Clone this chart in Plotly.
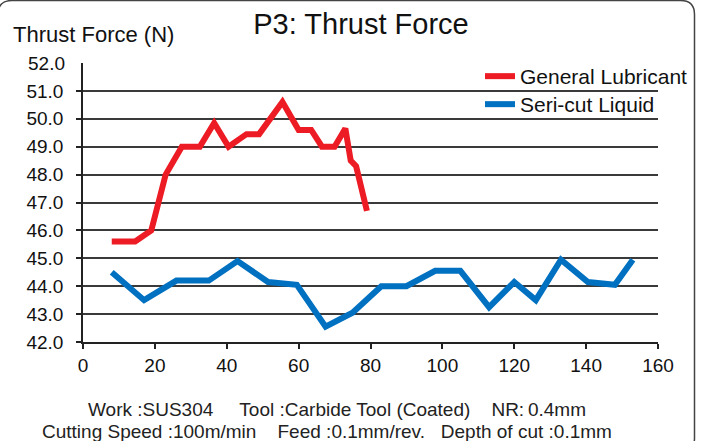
import plotly.graph_objects as go

# ---- data ----
red_name = "General Lubricant"
red_x = [8, 14.5, 19, 23, 27.5, 32.5, 36.5, 40.5, 45.5, 49, 55.5, 60, 63.5, 66.5, 70, 73, 74.5, 76, 79]
red_y = [45.6, 45.6, 46.0, 48.0, 49.0, 49.0, 49.85, 49.0, 49.45, 49.45, 50.6, 49.6, 49.6, 49.0, 49.0, 49.65, 48.5, 48.3, 46.7]

blue_name = "Seri-cut Liquid"
blue_x = [8, 17, 26, 35, 43, 51.5, 59.5, 67.5, 75, 83, 90, 98, 105, 113, 120, 126, 133, 140.5, 148, 153]
blue_y = [44.5, 43.5, 44.2, 44.2, 44.9, 44.15, 44.05, 42.55, 43.05, 44.0, 44.0, 44.55, 44.55, 43.25, 44.15, 43.5, 44.95, 44.15, 44.05, 44.95]

x_ticks = [0, 20, 40, 60, 80, 100, 120, 140, 160]
y_ticks = [42, 43, 44, 45, 46, 47, 48, 49, 50, 51]
y_top = 52

title_text = "P3: Thrust Force"
y_label = "Thrust Force (N)"
note1 = "Work :SUS304     Tool :Carbide Tool (Coated)    NR:\u20090.4mm"
note2 = "Cutting Speed :100m/min    Feed :0.1mm/rev.   Depth of cut :0.1mm"

FONT = "Liberation Sans, Arial, sans-serif"
W, H = 704, 441
L, R, T, B = 83, 46, 63, 99
PW, PH = W - L - R, H - T - B


def px2paper(px, py):
    return (px - L) / PW, (H - B - py) / PH


fig = go.Figure()
fig.add_trace(go.Scatter(x=red_x, y=red_y, mode="lines", name=red_name,
                         line=dict(color="#ED1C24", width=6), legend="legend"))
fig.add_trace(go.Scatter(x=blue_x, y=blue_y, mode="lines", name=blue_name,
                         line=dict(color="#0070C0", width=6), legend="legend2"))

# rounded border (left and bottom edges fall just outside the picture)
x0, y0, x1, y1, r = -2, 0.5, 694.5, 452, 14
def P(px, py):
    a, b = px2paper(px, py)
    return f"{a:.5f},{b:.5f}"
path = (f"M {P(x0 + r, y0)} L {P(x1 - r, y0)} Q {P(x1, y0)} {P(x1, y0 + r)} "
        f"L {P(x1, y1 - r)} Q {P(x1, y1)} {P(x1 - r, y1)} "
        f"L {P(x0 + r, y1)} Q {P(x0, y1)} {P(x0, y1 - r)} "
        f"L {P(x0, y0 + r)} Q {P(x0, y0)} {P(x0 + r, y0)} Z")
fig.add_shape(type="path", path=path, xref="paper", yref="paper",
              line=dict(color="#444444", width=1.5), layer="below")

ax, ay = px2paper(11, 35)
fig.add_annotation(text=y_label, x=ax, y=ay, xref="paper", yref="paper",
                   xanchor="left", yanchor="middle", showarrow=False,
                   font=dict(size=22, color="#111111", family=FONT))
fig.add_annotation(text=f"{y_top:.1f}", x=px2paper(67, 0)[0], y=y_top, xref="paper", yref="y",
                   xanchor="right", yanchor="middle", showarrow=False,
                   font=dict(size=19, color="#111111", family=FONT))
n1x, n1y = px2paper(337, 409)
n2x, n2y = px2paper(327, 431)
fig.add_annotation(text=note1, x=n1x, y=n1y, xref="paper", yref="paper",
                   xanchor="center", yanchor="middle", showarrow=False,
                   font=dict(size=19, color="#222222", family=FONT))
fig.add_annotation(text=note2, x=n2x, y=n2y, xref="paper", yref="paper",
                   xanchor="center", yanchor="middle", showarrow=False,
                   font=dict(size=19, color="#222222", family=FONT))

lx, ly1 = px2paper(480, 56)
_, ly2 = px2paper(480, 84)
leg_common = dict(x=lx, xanchor="left", yanchor="top", bgcolor="rgba(0,0,0,0)",
                  font=dict(size=21, color="#111111", family=FONT))
fig.update_layout(
    width=W, height=H,
    margin=dict(l=L, r=R, t=T, b=B, autoexpand=False),
    paper_bgcolor="white", plot_bgcolor="white",
    font=dict(family=FONT, color="#111111"),
    title=dict(text=title_text, x=361 / W, y=1 - 24 / H, xanchor="center", yanchor="middle",
               xref="container", yref="container",
               font=dict(size=29, color="#111111", family=FONT)),
    showlegend=True,
    legend=dict(y=ly1, **leg_common),
    legend2=dict(y=ly2, **leg_common),
    xaxis=dict(range=[0, 160], tickvals=x_ticks, showgrid=False, zeroline=False,
               showline=True, linecolor="#222222", linewidth=1.5,
               ticks="outside", ticklen=5, tickcolor="#222222", tickwidth=1.5,
               tickfont=dict(size=19, color="#111111", family=FONT), ticklabelstandoff=0),
    yaxis=dict(range=[42, 52], tickvals=y_ticks, ticktext=[f"{v:.1f}" for v in y_ticks],
               showgrid=True, gridcolor="#3a3a3a", gridwidth=1.5, zeroline=False,
               showline=True, linecolor="#222222", linewidth=1.5,
               ticks="outside", ticklen=5, tickcolor="#222222", tickwidth=1.5,
               tickfont=dict(size=19, color="#111111", family=FONT), ticklabelstandoff=9),
)

fig.write_html("out.html", config={"displayModeBar": False},
               post_script="document.body.style.margin='0';document.body.style.overflow='hidden';")
